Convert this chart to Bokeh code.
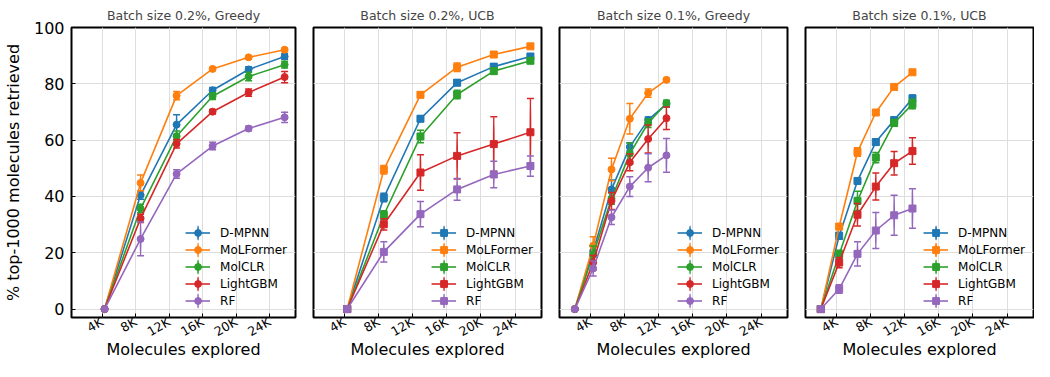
import math
from bokeh.plotting import figure
from bokeh.layouts import row
from bokeh.models import Range1d, FixedTicker, Legend, LegendItem, ColumnDataSource
from bokeh.embed import file_html
from bokeh.resources import INLINE

# ---------------- data ----------------
models = ["D-MPNN", "MoLFormer", "MolCLR", "LightGBM", "RF"]
colors = ["#1f77b4", "#ff7f0e", "#2ca02c", "#d62728", "#9467bd"]

x_tick_values = [4000, 8000, 12000, 16000, 20000, 24000]
x_tick_labels = ["4K", "8K", "12K", "16K", "20K", "24K"]
y_tick_values = [0, 20, 40, 60, 80, 100]

x_batch02 = [4300, 8600, 12900, 17200, 21500, 25800]
x_batch01 = [2150, 4300, 6450, 8600, 10750, 12900]

# Batch size 0.2%, Greedy
g02_mean = {
    "D-MPNN":    [0, 40.5, 65.5, 77.7, 85.1, 89.7],
    "MoLFormer": [0, 44.8, 75.8, 85.3, 89.4, 92.1],
    "MolCLR":    [0, 35.7, 61.4, 75.6, 82.6, 86.8],
    "LightGBM":  [0, 32.2, 58.7, 70.1, 76.9, 82.4],
    "RF":        [0, 24.9, 48.0, 57.9, 64.1, 68.1],
}
g02_err = {
    "D-MPNN":    [0, 1.5, 3.5, 1.0, 1.0, 1.0],
    "MoLFormer": [0, 2.8, 1.5, 0.6, 0.6, 0.6],
    "MolCLR":    [0, 1.5, 1.8, 1.2, 1.5, 1.2],
    "LightGBM":  [0, 1.5, 1.5, 0.8, 1.3, 2.0],
    "RF":        [0, 6.0, 1.5, 1.3, 0.8, 1.8],
}
# Batch size 0.2%, UCB
u02_mean = {
    "D-MPNN":    [0, 39.6, 67.6, 80.4, 86.1, 89.7],
    "MoLFormer": [0, 49.5, 76.1, 85.9, 90.4, 93.3],
    "MolCLR":    [0, 33.4, 61.3, 76.2, 84.5, 88.2],
    "LightGBM":  [0, 30.1, 48.5, 54.4, 58.6, 62.8],
    "RF":        [0, 20.3, 33.7, 42.5, 47.8, 50.8],
}
u02_err = {
    "D-MPNN":    [0, 1.5, 1.0, 1.0, 1.0, 1.0],
    "MoLFormer": [0, 1.5, 1.0, 1.5, 0.8, 0.8],
    "MolCLR":    [0, 1.5, 2.2, 1.5, 1.0, 1.0],
    "LightGBM":  [0, 2.0, 6.3, 8.2, 9.7, 12.0],
    "RF":        [0, 3.6, 4.5, 3.9, 4.7, 3.6],
}
# Batch size 0.1%, Greedy
g01_mean = {
    "D-MPNN":    [0, 20.5, 42.5, 57.6, 67.2, 72.8],
    "MoLFormer": [0, 22.5, 49.6, 67.6, 76.7, 81.4],
    "MolCLR":    [0, 19.4, 39.2, 55.2, 66.0, 73.2],
    "LightGBM":  [0, 16.5, 38.4, 52.1, 60.4, 67.8],
    "RF":        [0, 14.4, 32.6, 43.5, 50.2, 54.6],
}
g01_err = {
    "D-MPNN":    [0, 2.0, 3.3, 1.5, 1.0, 1.0],
    "MoLFormer": [0, 3.2, 4.0, 5.4, 1.5, 0.6],
    "MolCLR":    [0, 3.0, 2.0, 3.8, 1.5, 1.0],
    "LightGBM":  [0, 2.5, 3.0, 3.0, 5.0, 4.0],
    "RF":        [0, 2.7, 2.6, 3.5, 5.0, 6.0],
}
# Batch size 0.1%, UCB
u01_mean = {
    "D-MPNN":    [0, 26.0, 45.5, 59.3, 67.1, 74.8],
    "MoLFormer": [0, 29.3, 55.8, 69.8, 78.9, 84.1],
    "MolCLR":    [0, 19.4, 38.4, 53.8, 66.1, 72.8],
    "LightGBM":  [0, 16.5, 33.5, 43.5, 51.8, 56.1],
    "RF":        [0, 7.1, 19.6, 27.9, 33.3, 35.7],
}
u01_err = {
    "D-MPNN":    [0, 1.2, 1.0, 1.0, 1.0, 1.2],
    "MoLFormer": [0, 1.0, 1.5, 0.8, 0.6, 0.6],
    "MolCLR":    [0, 1.5, 3.4, 1.8, 1.2, 1.7],
    "LightGBM":  [0, 1.8, 4.0, 4.8, 4.2, 4.7],
    "RF":        [0, 1.5, 4.3, 6.4, 7.1, 7.0],
}

panels = [
    ("Batch size 0.2%, Greedy", x_batch02, g02_mean, g02_err, "circle"),
    ("Batch size 0.2%, UCB",    x_batch02, u02_mean, u02_err, "square"),
    ("Batch size 0.1%, Greedy", x_batch01, g01_mean, g01_err, "circle"),
    ("Batch size 0.1%, UCB",    x_batch01, u01_mean, u01_err, "square"),
]
x_label = "Molecules explored"
y_label = "% top-1000 molecules retrieved"

FONT = "DejaVu Sans"
FRAME_W = 228
HEIGHT = 361


def make_panel(idx, title, xs, means, errs, marker):
    first = idx == 0
    last = idx == len(panels) - 1
    left = 67 if first else 9
    right = 1 if last else 9
    p = figure(width=left + FRAME_W + right, height=HEIGHT,
               x_range=Range1d(350, 27100), y_range=Range1d(-3, 100),
               output_backend="svg", toolbar_location=None,
               min_border_left=left, min_border_right=right,
               min_border_top=10, min_border_bottom=0)
    p.title.text = title
    p.title.text_font = FONT
    p.title.text_font_size = "12.5px"
    p.title.text_font_style = "normal"
    p.title.align = "center"
    p.title.standoff = 10
    p.title.offset = 0

    p.outline_line_color = "black"
    p.outline_line_width = 2
    p.background_fill_color = "white"
    p.border_fill_color = "white"

    p.xaxis.ticker = FixedTicker(ticks=x_tick_values)
    p.xaxis.major_label_overrides = {v: l for v, l in zip(x_tick_values, x_tick_labels)}
    p.xaxis.major_label_orientation = math.pi / 6
    p.xaxis.axis_label = x_label
    p.yaxis.ticker = FixedTicker(ticks=y_tick_values)
    for ax in (p.xaxis, p.yaxis):
        ax.axis_line_color = None
        ax.major_tick_in = 4
        ax.major_tick_out = 0
        ax.minor_tick_line_color = None
        ax.major_tick_line_color = "black"
        ax.major_label_text_font = FONT
        ax.axis_label_text_font = FONT
        ax.axis_label_text_font_style = "normal"
        ax.axis_label_text_font_size = "16px"
        ax.axis_label_text_color = "black"
        ax.major_label_text_color = "black"
        ax.axis_label_text_line_height = 1.0
        ax.major_label_text_line_height = 1.0
    p.xaxis.major_label_text_font_size = "12.5px"
    p.xaxis.major_label_standoff = 3
    p.xaxis.axis_label_standoff = -9
    if first:
        p.yaxis.axis_label = y_label
        p.yaxis.major_label_text_font_size = "16px"
        p.yaxis.major_label_standoff = 7
        p.yaxis.axis_label_standoff = 8
    else:
        p.yaxis.visible = False

    p.grid.grid_line_color = "#dedede"
    p.grid.grid_line_width = 1

    items = []
    for name, c in zip(models, colors):
        m = means[name]
        e = errs[name]
        src = ColumnDataSource(dict(x=xs, y=m, h=[2 * v for v in e]))
        bars = p.ellipse(x="x", y="y", width=0.3, width_units="screen", height="h",
                         source=src, fill_color=None, line_color=c, line_width=1.5)
        cap_x = [xv for xv, ev in zip(xs, e) if ev > 0]
        cap_src = ColumnDataSource(dict(
            x=cap_x + cap_x,
            y=[mv + ev for mv, ev in zip(m, e) if ev > 0] + [mv - ev for mv, ev in zip(m, e) if ev > 0]))
        p.scatter(x="x", y="y", source=cap_src, marker="dash", size=7,
                  line_color=c, line_width=1.5)
        ln = p.line(x="x", y="y", source=src, line_color=c, line_width=1.6)
        mk = p.scatter(x="x", y="y", source=src, marker=marker, size=7,
                       fill_color=c, line_color=c)
        items.append(LegendItem(label=name, renderers=[ln, bars, mk], index=1))

    legend = Legend(items=items, location="bottom_right")
    legend.background_fill_alpha = 0
    legend.border_line_color = None
    legend.label_text_font = FONT
    legend.label_text_font_size = "12px"
    legend.label_text_color = "black"
    legend.glyph_width = 25
    legend.glyph_height = 17
    legend.label_height = 17
    legend.label_standoff = 10
    legend.spacing = 0
    legend.padding = 4
    legend.margin = 8
    p.add_layout(legend)
    return p


figs = [make_panel(i, *pn) for i, pn in enumerate(panels)]
layout = row(*figs)
open("out.html", "w").write(file_html(layout, INLINE))
